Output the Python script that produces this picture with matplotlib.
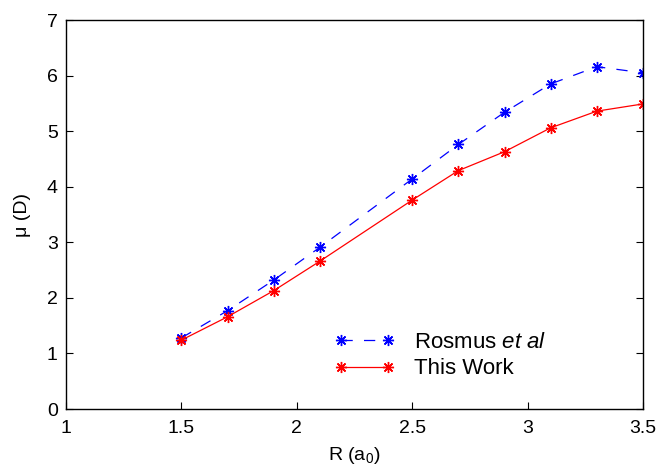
import matplotlib
matplotlib.use("Agg")
import matplotlib.pyplot as plt

plt.rcParams["font.family"] = ["Liberation Sans", "DejaVu Sans"]
plt.rcParams["mathtext.fontset"] = "custom"
plt.rcParams["mathtext.rm"] = "Liberation Sans"
plt.rcParams["mathtext.it"] = "Liberation Sans:italic"

# bond length R (a0)
r_vals = [1.5, 1.7, 1.9, 2.1, 2.5, 2.7, 2.9, 3.1, 3.3, 3.5]
# dipole moment (D)
rosmus = [1.28, 1.77, 2.32, 2.91, 4.14, 4.76, 5.34, 5.85, 6.16, 6.05]
this_work = [1.24, 1.66, 2.13, 2.66, 3.76, 4.29, 4.63, 5.06, 5.36, 5.49]

# matlab-style asterisk: 8 spokes
star = (8, 2, 0)

fig = plt.figure(figsize=(6.59, 4.71), dpi=100)
ax = fig.add_axes([0.1002, 0.1316, 0.8755, 0.8259])

ax.plot(r_vals, rosmus, color="blue", linestyle=(0, (9, 9)), linewidth=0.9,
        marker=star, markersize=8, markeredgewidth=1.0,
        label=r"Rosmus $\it{et\ al}$")
ax.plot(r_vals, this_work, color="red", linestyle="-", linewidth=0.9,
        marker=star, markersize=8, markeredgewidth=1.0, label="This Work")

ax.set_xlim(1, 3.5)
ax.set_ylim(0, 7)
ax.set_xticks([1, 1.5, 2, 2.5, 3, 3.5])
ax.set_xticklabels(["1", "1.5", "2", "2.5", "3", "3.5"])
ax.set_yticks(range(8))
ax.tick_params(direction="in", length=5, width=0.8, labelsize=14,
               top=False, right=True)
ax.tick_params(axis="x", pad=8)
ax.tick_params(axis="y", pad=6)
for s in ax.spines.values():
    s.set_linewidth(1.0)

ax.set_xlabel(r"R (a$_0$)", fontsize=14, labelpad=6)
ax.set_ylabel("μ (D)", fontsize=14, labelpad=11)

ax.legend(loc="lower left", bbox_to_anchor=(0.431, 0.025), frameon=False,
          fontsize=16, numpoints=2, handlelength=2.7, handletextpad=0.85,
          labelspacing=0.25)

fig.savefig("out.png", dpi=100)
